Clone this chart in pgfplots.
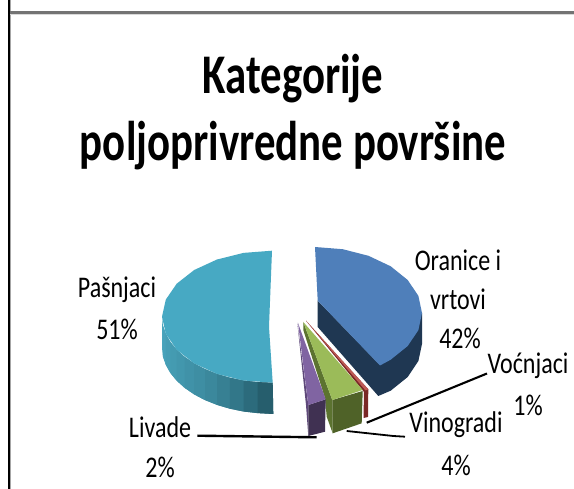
\documentclass[border=0pt]{standalone}
\usepackage{graphicx}
\usepackage{fontspec}
\setmainfont{Carlito}
\usepackage{pgfplots}
\pgfplotsset{compat=1.18}
\definecolor{tealA}{HTML}{4AA6BE}
\definecolor{tealB}{HTML}{245A69}
\definecolor{tealTop}{HTML}{47A9C3}
\definecolor{blueTop}{HTML}{4F7FBA}
\definecolor{navy}{HTML}{1F3752}
\newcommand{\ttl}[3]{\node[anchor=center,inner sep=0pt] at (axis cs:#1,#2) {\fontsize{56}{56}\selectfont\bfseries\scalebox{0.765}[1]{#3}};}
\newcommand{\lab}[3]{\node[anchor=center,inner sep=0pt] at (axis cs:#1,#2) {\fontsize{30}{30}\selectfont\scalebox{0.80}[1]{#3}};}
\begin{document}
\begin{tikzpicture}
\begin{axis}[
  width=574pt,height=489pt,scale only axis,
  xmin=0,xmax=574,ymin=0,ymax=489,y dir=reverse,
  axis lines=none,clip=true]
% canvas
\addplot[fill=white,draw=none] coordinates {(0,0)(574,0)(574,489)(0,489)};
% frame
\addplot[draw=none,fill=black] coordinates {(7.5,0)(9.7,0)(9.7,489)(7.5,489)};
\addplot[draw=none,fill=black!35] coordinates {(9.7,0)(11,0)(11,489)(9.7,489)};
\addplot[draw=none,fill=black!55] coordinates {(10,11)(574,11)(574,14)(10,14)};
\addplot[draw=none,fill=black!15] coordinates {(10,14)(574,14)(574,15)(10,15)};
% Pasnjaci side strips (each runs under the next one)
\addplot[fill=tealA!100!tealB,draw=none] coordinates {(162,316.7)(162.9,325.3)(165.8,333.8)(165.8,364.8)(162.9,356.3)(162,347.7)};
\addplot[fill=tealA!95!tealB,draw=none] coordinates {(162.9,325.3)(165.8,333.8)(170.4,342)(170.4,373)(165.8,364.8)(162.9,356.3)};
\addplot[fill=tealA!90!tealB,draw=none] coordinates {(165.8,333.8)(170.4,342)(176.7,349.7)(176.7,380.7)(170.4,373)(165.8,364.8)};
\addplot[fill=tealA!85!tealB,draw=none] coordinates {(170.4,342)(176.7,349.7)(184.7,356.9)(184.7,387.9)(176.7,380.7)(170.4,373)};
\addplot[fill=tealA!80!tealB,draw=none] coordinates {(176.7,349.7)(184.7,356.9)(194.2,363.4)(194.2,394.4)(184.7,387.9)(176.7,380.7)};
\addplot[fill=tealA!74!tealB,draw=none] coordinates {(184.7,356.9)(194.2,363.4)(205,369.1)(205,400.1)(194.2,394.4)(184.7,387.9)};
\addplot[fill=tealA!68!tealB,draw=none] coordinates {(194.2,363.4)(205,369.1)(217,373.9)(217,404.9)(205,400.1)(194.2,394.4)};
\addplot[fill=tealA!60!tealB,draw=none] coordinates {(205,369.1)(217,373.9)(229.9,377.7)(229.9,408.7)(217,404.9)(205,400.1)};
\addplot[fill=tealA!50!tealB,draw=none] coordinates {(217,373.9)(229.9,377.7)(243.5,380.5)(243.5,411.5)(229.9,408.7)(217,404.9)};
\addplot[fill=tealA!38!tealB,draw=none] coordinates {(229.9,377.7)(243.5,380.5)(257.6,382.1)(257.6,413.1)(243.5,411.5)(229.9,408.7)};
\addplot[fill=tealA!22!tealB,draw=none] coordinates {(243.5,380.5)(257.6,382.1)(272.7,382.7)(273.3,414)(257.6,413.1)(243.5,411.5)};
\addplot[fill=tealA!5!tealB,draw=none] coordinates {(257.6,382.1)(272.7,382.7)(273.3,414)(257.6,413.1)};
% Pasnjaci top
\addplot[fill=tealTop,draw=none] coordinates {(272,250.7)(243.5,252.9)(217,259.5)(194.2,270)(176.7,283.7)(165.8,299.6)(162,316.7)(165.8,333.8)(176.7,349.7)(194.2,363.4)(217,373.9)(243.5,380.5)(272.7,382.7)(269,326.7)};
% Oranice side and top
\addplot[fill=navy,draw=none] coordinates {(317.7,300.7)(317.7,327)(378.3,396)(390.7,390.7)(407.7,377)(418.4,361)(422,344)(422,313)(380,365)};
\addplot[fill=blueTop,draw=none] coordinates {(315,247)(342.7,249.2)(368.5,255.8)(390.7,266.3)(407.7,280)(418.4,295.9)(422,313)(418.4,330.1)(407.7,346)(390.7,359.7)(380,365.5)(317.7,300.7)};
% Vocnjaci
\addplot[fill={rgb,255:red,122;green,40;blue,38},draw=none] coordinates {(306,320.7)(368.3,389.3)(368,417)(363.5,418)(364,392)};
\addplot[fill={rgb,255:red,190;green,90;blue,85},draw=none] coordinates {(306,320.7)(368.3,389.3)(365.5,390.5)};
% Vinogradi
\addplot[fill={rgb,255:red,92;green,115;blue,48},draw=none] coordinates {(303.3,322)(332.3,400)(332.7,433.3)(326.7,416.7)(325,398)(303.3,330)};
\addplot[fill={rgb,255:red,79;green,98;blue,40},draw=none] coordinates {(332.3,400)(362.7,391)(361.7,423.3)(332.7,433.3)};
\addplot[fill={rgb,255:red,155;green,187;blue,89},draw=none] coordinates {(303.3,322)(362.7,390)(332.3,400)};
% Livade
\addplot[fill={rgb,255:red,95;green,73;blue,122},draw=none] coordinates {(297.3,322.7)(308.3,405)(308.3,436)(306,405)};
\addplot[fill={rgb,255:red,64;green,49;blue,82},draw=none] coordinates {(308.3,405)(325.7,399.3)(325,431.7)(308.3,436)};
\addplot[fill={rgb,255:red,128;green,100;blue,162},draw=none] coordinates {(298,323)(325.7,399.3)(308.3,405)};
% leaders
\addplot[black,line width=2.4pt] coordinates {(197.3,435.7)(316.7,437.3)};
\addplot[black,line width=1.8pt] coordinates {(405,436.7)(393.3,436)(346.7,431)};
\addplot[black,line width=2.1pt] coordinates {(366.7,422.7)(487,373.5)};
% text
\ttl{293}{79}{Kategorije}
\ttl{293}{146}{poljoprivredne površine}
\lab{458}{260}{Oranice i}
\lab{458}{299}{vrtovi}
\lab{460}{338}{42\%}
\lab{528}{366}{Voćnjaci}
\lab{528}{405}{1\%}
\lab{456}{425}{Vinogradi}
\lab{456}{465}{4\%}
\lab{160}{427}{Livade}
\lab{160}{467}{2\%}
\lab{117}{290}{Pašnjaci}
\lab{117}{329}{51\%}
\end{axis}
\end{tikzpicture}
\end{document}
